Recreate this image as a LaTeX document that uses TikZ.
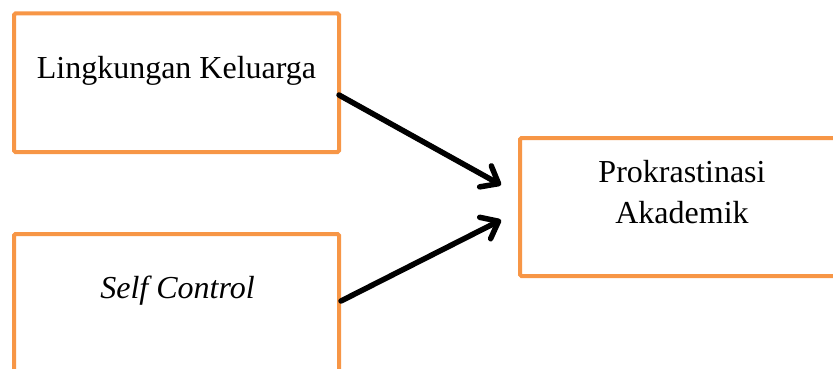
\documentclass[tikz,border=0pt]{standalone}
\usepackage{fontspec}
\setmainfont{Liberation Serif}
\usetikzlibrary{arrows.meta}
\definecolor{boxorange}{HTML}{F79646}
\begin{document}
\begin{tikzpicture}[x=1pt,y=-1pt,
  box/.style={draw=boxorange,line width=4pt,rounded corners=1.5pt,fill=white,
    minimum width=325pt,minimum height=138.5pt,inner sep=0pt,outer sep=0pt},
  lbl/.style={anchor=base,inner sep=0pt,font=\fontsize{32}{41}\selectfont},
  conn/.style={line width=5.5pt,line cap=round,
    -{Straight Barb[length=15pt,width=24pt,round]}}]
\useasboundingbox (0,0) rectangle (833,369);
\node[box] (b1) at (176.5,82.75) {};
\node[box,minimum height=139pt] (b2) at (176.5,303.5) {};
\node[box,minimum width=324pt,minimum height=138pt] (b3) at (682,207) {};
\node[lbl] (t1) at (176.5,78) {Lingkungan Keluarga};
\node[lbl] (t2) at (177.5,298) {\itshape Self Control};
\node[lbl] (t3) at (682,182) {Prokrastinasi};
\node[lbl] (t4) at (682,223) {Akademik};
\coordinate (s1) at (339,95);
\coordinate (e1) at (501,185);
\coordinate (s2) at (341,301);
\coordinate (e2) at (501,220);
\draw[conn] (s1) -- (e1);
\draw[conn] (s2) -- (e2);
\end{tikzpicture}
\end{document}
